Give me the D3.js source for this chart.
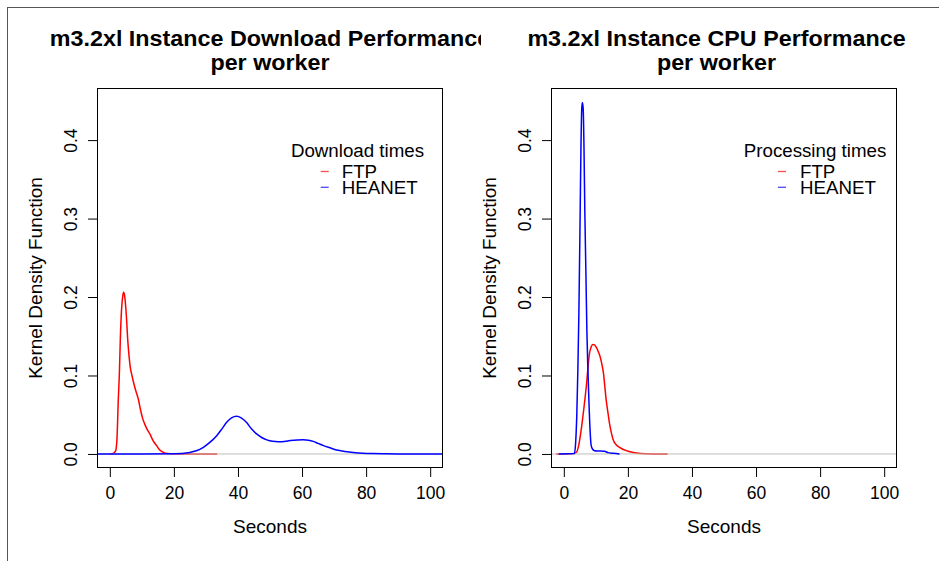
<!DOCTYPE html>
<html>
<head>
<meta charset="utf-8">
<script src="https://cdn.jsdelivr.net/npm/d3@7"></script>
<style>
  body { margin: 0; background: #fff; }
  svg text { font-family: "Liberation Sans", Arial, Helvetica, sans-serif; fill: #000; }
</style>
</head>
<body>
<div id="chart"></div>
<script>
// data (seconds, density)
const dlFtpX = [0, 1.0, 1.5, 1.9, 2.3, 2.6, 3.0, 3.3, 3.65, 4.0, 4.3, 4.6, 5.2, 5.6, 6.0, 6.4, 6.8, 7.3, 7.8, 8.3, 8.9, 9.6, 10.2, 10.9, 11.7, 12.5, 13.5, 14.6, 15.6, 16.7, 18.0, 19.5, 25, 33.5];
const dlFtpY = [0, 0.0005, 0.002, 0.005, 0.025, 0.064, 0.105, 0.149, 0.183, 0.200, 0.206, 0.202, 0.174, 0.145, 0.125, 0.110, 0.102, 0.093, 0.085, 0.078, 0.070, 0.056, 0.046, 0.038, 0.031, 0.0255, 0.017, 0.0106, 0.005, 0.002, 0.0005, 0, 0, 0];
const dlHeaX = [-4.5, 10, 20, 25, 27, 29.2, 31.3, 33.3, 35, 36.4, 38, 39.6, 41, 42.7, 44.2, 45.8, 47.4, 49, 50.8, 52.6, 54.5, 56.3, 58.5, 60.4, 62, 63.5, 65, 66.7, 68.7, 70.8, 73.5, 76, 79, 82, 86, 92, 105];
const dlHeaY = [0, 0, 0.0003, 0.002, 0.004, 0.0085, 0.015, 0.023, 0.032, 0.040, 0.046, 0.048, 0.046, 0.040, 0.032, 0.0255, 0.021, 0.018, 0.0162, 0.0157, 0.016, 0.017, 0.0178, 0.018, 0.0175, 0.016, 0.0135, 0.0106, 0.0078, 0.005, 0.0032, 0.002, 0.001, 0.0005, 0.0002, 0, 0];
const cpuFtpX = [-2.4, 2.5, 3.9, 4.7, 5.4, 6.2, 7.0, 8.0, 8.5, 9.06, 9.6, 10.1, 10.8, 11.4, 12.0, 12.4, 12.8, 13.25, 13.8, 14.3, 14.9, 15.5, 16.4, 17.4, 19.5, 21, 22.6, 25.6, 28, 32.4];
const cpuFtpY = [0, 0.0003, 0.002, 0.012, 0.030, 0.056, 0.085, 0.128, 0.136, 0.1396, 0.139, 0.136, 0.130, 0.123, 0.112, 0.102, 0.086, 0.068, 0.052, 0.038, 0.026, 0.017, 0.0115, 0.0085, 0.0042, 0.0025, 0.0013, 0.0002, 0, 0];
const cpuHeaX = [-1.6, 3.3, 3.7, 4.06, 4.4, 4.7, 5.1, 5.35, 5.6, 5.8, 6.05, 6.3, 6.57, 6.9, 7.2, 7.5, 7.8, 8.2, 8.55, 9.0, 9.6, 11, 12.7, 13.75, 15.5, 17.4];
const cpuHeaY = [0, 0.0005, 0.015, 0.051, 0.11, 0.179, 0.306, 0.39, 0.44, 0.448, 0.44, 0.39, 0.306, 0.23, 0.157, 0.11, 0.072, 0.03, 0.0106, 0.006, 0.0042, 0.0038, 0.0033, 0.0017, 0.0008, 0];

const xTicks = [0, 20, 40, 60, 80, 100];
const yTicks = [0, 0.1, 0.2, 0.3, 0.4];
const seriesNames = ["FTP", "HEANET"];
const seriesColors = ["#ff0000", "#0000ff"];

const panels = [
  {title: ["m3.2xl Instance Download Performance", "per worker"], legendTitle: "Download times",
   ftp: [dlFtpX, dlFtpY], hea: [dlHeaX, dlHeaY],
   left: 97, titleX: 270, clipL: 0, clipR: 481, legDash: 320.7, legText: 341.7, legTitleX: 357.5},
  {title: ["m3.2xl Instance CPU Performance", "per worker"], legendTitle: "Processing times",
   ftp: [cpuFtpX, cpuFtpY], hea: [cpuHeaX, cpuHeaY],
   left: 551, titleX: 716.5, clipL: 481, clipR: 939, legDash: 778, legText: 800, legTitleX: 815}
];

const W = 939, H = 561;
const boxW = 346, boxTop = 88, boxBottom = 468;

const svg = d3.select("#chart").append("svg")
  .attr("width", W).attr("height", H);

// outer frame
svg.append("rect")
  .attr("x", 7.5).attr("y", 7.5)
  .attr("width", 1000).attr("height", 1000)
  .attr("fill", "none").attr("stroke", "#555").attr("stroke-width", 1);

panels.forEach((p, i) => {
  const x = d3.scaleLinear().domain([-4, 104]).range([p.left, p.left + boxW]);
  const y = d3.scaleLinear().domain([-0.0179, 0.4664]).range([boxBottom, boxTop]);

  svg.append("clipPath").attr("id", "box" + i)
    .append("rect").attr("x", p.left).attr("y", boxTop).attr("width", boxW).attr("height", boxBottom - boxTop);
  svg.append("clipPath").attr("id", "fig" + i)
    .append("rect").attr("x", p.clipL).attr("y", 0).attr("width", p.clipR - p.clipL).attr("height", H);

  const g = svg.append("g");
  const plot = g.append("g").attr("clip-path", `url(#box${i})`);

  const line = d3.line()
    .x(d => x(d[0])).y(d => y(d[1]))
    .curve(d3.curveMonotoneX);

  const ftpPts = p.ftp[0].map((v, k) => [v, p.ftp[1][k]]);
  const heaPts = p.hea[0].map((v, k) => [v, p.hea[1][k]]);

  plot.append("path").datum(ftpPts)
    .attr("d", line).attr("fill", "none")
    .attr("stroke", seriesColors[0]).attr("stroke-width", 1.5);

  // zero line (drawn over the first density, like plot.density)
  plot.append("line")
    .attr("x1", p.left).attr("x2", p.left + boxW)
    .attr("y1", y(0)).attr("y2", y(0))
    .attr("stroke", "#bebebe").attr("stroke-width", 1);

  plot.append("path").datum(heaPts)
    .attr("d", line).attr("fill", "none")
    .attr("stroke", seriesColors[1]).attr("stroke-width", 1.5);

  // box
  g.append("rect")
    .attr("x", p.left + 0.5).attr("y", boxTop + 0.5)
    .attr("width", boxW - 1).attr("height", boxBottom - boxTop - 1)
    .attr("fill", "none").attr("stroke", "#000").attr("stroke-width", 1);

  // x axis
  const xa = g.append("g")
    .attr("transform", `translate(0,${boxBottom})`)
    .call(d3.axisBottom(x).tickValues(xTicks).tickSize(9).tickPadding(10).tickFormat(d3.format("d")));
  xa.select(".domain").remove();
  xa.selectAll("text").style("font-size", "17.5px").attr("fill", "#000");

  // y axis, rotated labels like R
  const ya = g.append("g")
    .attr("transform", `translate(${p.left},0)`)
    .call(d3.axisLeft(y).tickValues(yTicks).tickSize(9).tickFormat(d3.format(".1f")));
  ya.select(".domain").remove();
  ya.selectAll("text")
    .attr("x", 0).attr("y", -20).attr("dy", 0)
    .attr("text-anchor", "middle")
    .attr("transform", "rotate(-90)")
    .style("font-size", "17.5px");

  // axis titles
  g.append("text")
    .attr("x", p.left + boxW / 2).attr("y", 533)
    .attr("text-anchor", "middle")
    .style("font-size", "19px")
    .text("Seconds");

  g.append("text")
    .attr("transform", `translate(${p.left - 55},${(boxTop + boxBottom) / 2}) rotate(-90)`)
    .attr("text-anchor", "middle")
    .style("font-size", "19px")
    .text("Kernel Density Function");

  // main title
  const tg = g.append("g").attr("clip-path", `url(#fig${i})`);
  p.title.forEach((t, k) => {
    tg.append("text")
      .attr("transform", `translate(${p.titleX},${45.5 + k * 24}) scale(1.06,1)`)
      .attr("text-anchor", "middle")
      .style("font-size", "22px").style("font-weight", "bold")
      .text(t);
  });

  // legend
  g.append("text")
    .attr("transform", `translate(${p.legTitleX},157) scale(1.04,1)`)
    .attr("text-anchor", "middle")
    .style("font-size", "18px")
    .text(p.legendTitle);
  seriesNames.forEach((s, k) => {
    const ly = 171.5 + k * 15.8;
    g.append("line")
      .attr("x1", p.legDash).attr("x2", p.legDash + 8)
      .attr("y1", ly).attr("y2", ly)
      .attr("stroke", seriesColors[k]).attr("stroke-width", 1.3).attr("opacity", 0.7);
    g.append("text")
      .attr("transform", `translate(${p.legText},${ly + 6.2}) scale(1.04,1)`)
      .style("font-size", "18px")
      .text(s);
  });
});
</script>
</body>
</html>
